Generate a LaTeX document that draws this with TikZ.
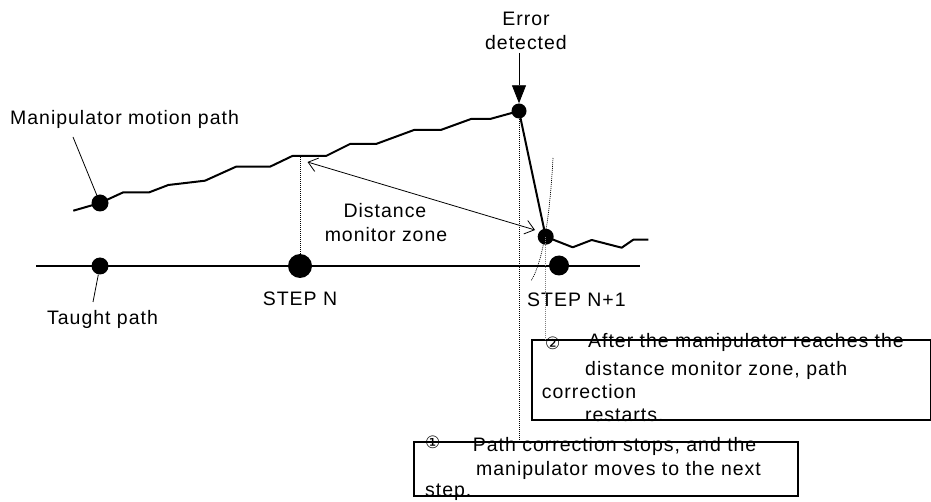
\documentclass[tikz,border=0pt]{standalone}
\usepackage{fontspec}
\setmainfont{Liberation Sans}[LetterSpace=5]
\newfontfamily\symfont{DejaVu Sans}
\usetikzlibrary{arrows.meta}
\begin{document}
\begin{tikzpicture}[x=1pt,y=-1pt,
  thickline/.style={line width=2pt, line join=round},
  thinline/.style={line width=0.8pt},
  dotline/.style={line width=0.8pt, dash pattern=on 1pt off 1pt},
  dotnode/.style={circle, fill=black, inner sep=0pt, minimum size=#1},
  lbl/.style={font=\fontsize{19.5}{24}\selectfont, inner sep=0pt},
  numlbl/.style={font=\symfont\fontsize{17}{17}\selectfont, inner sep=0pt},
  boxnode/.style={draw, line width=2pt, inner sep=0pt, anchor=north west}]
\useasboundingbox (0,0) rectangle (931,502);

% dots
\node[dotnode=17pt] (m0) at (100,203) {};
\node[dotnode=15pt] (err) at (519,111) {};
\node[dotnode=16pt] (m1) at (545.7,236.7) {};
\node[dotnode=17pt] (t0) at (100,266) {};
\node[dotnode=24pt] (sN) at (300,266) {};
\node[dotnode=20pt] (sN1) at (559,265.5) {};

% taught path
\coordinate (tl) at (36,266);
\coordinate (tr) at (640,266);
\draw[thickline] (tl) -- (tr);

% manipulator motion path
\draw[thickline] (73.3,210.7) -- (m0.center) -- (123.3,192.3) -- (149.3,192.3)
  -- (168.3,185) -- (205,180.7) -- (236,166.7) -- (270,166.7) -- (292.3,156)
  -- (326,156) -- (350,144) -- (376,144) -- (414,130) -- (440.7,130)
  -- (471,119) -- (490,119) -- (err.center) -- (m1.center) -- (572.7,247.3)
  -- (591.7,240) -- (621.7,247.7) -- (633.3,239.7) -- (648.3,239.7);

% boxes
\node[boxnode, minimum width=399pt, minimum height=80pt] (box2) at (531,339) {};
\node[boxnode, minimum width=384pt, minimum height=54pt] (box1) at (413,441) {};

% labels
\node[lbl, anchor=base west] (mtxt) at (10,125) {Manipulator motion path};
\node[lbl, anchor=base] (errtxt1) at (526,26) {Error};
\node[lbl, anchor=base] (errtxt2) at (526,50) {detected};
\node[lbl, anchor=base] (dist1) at (385,218) {Distance};
\node[lbl, anchor=base] (dist2) at (386,242) {monitor zone};
\node[lbl, anchor=base] (stepN) at (300,306) {STEP N};
\node[lbl, anchor=base west] (stepN1) at (527,307) {STEP N+1};
\node[lbl, anchor=base west] (taught) at (47,325) {Taught path};

% box 2 text
\node[numlbl] (n2) at (552.7,343) {②};
\node[lbl, anchor=base west] (b2l1) at (588,348) {After the manipulator reaches the};
\node[lbl, anchor=base west] (b2l2) at (585,375) {distance monitor zone, path};
\node[lbl, anchor=base west] (b2l3) at (541.7,398) {correction};
\node[lbl, anchor=base west] (b2l4) at (585,421.5) {restarts.};

% box 1 text
\node[numlbl] (n1) at (432.7,442.5) {①};
\node[lbl, anchor=base west] (b1l1) at (472.7,451) {Path correction stops, and the};
\node[lbl, anchor=base west] (b1l2) at (476,475) {manipulator moves to the next};
\node[lbl, anchor=base west] (b1l3) at (425,496.5) {step.};

% leaders
\coordinate (mlead) at (73,137);
\draw[thinline] (mlead) -- (m0);
\coordinate (tlead) at (93,302);
\draw[thinline] (t0) -- (tlead);

% error arrow
\coordinate (errtop) at (519,53);
\draw[thinline, -{Triangle[length=18pt,width=14pt]}] (errtop) -- (err.north);

% dotted verticals
\coordinate (sNtop) at (300,156);
\draw[dotline] (sN.north) -- (sNtop);
\draw[dotline] (err.center) -- (err.center |- box1.north);
\draw[dotline, gray, line width=1.2pt] (m1.center) -- (m1.center |- box2.north);

% distance zone arc
\coordinate (arcA) at (553,158);
\coordinate (arcB) at (531,281);
\draw[dotline, line width=0.7pt] (arcA) .. controls (550,215) and (543,262) .. (arcB);

% distance double arrow
\coordinate (da1) at (307.5,162);
\coordinate (da2) at (535,230);
\draw[thinline, {Straight Barb[length=9pt,width=14pt]}-{Straight Barb[length=9pt,width=14pt]}] (da1) -- (da2);
\end{tikzpicture}
\end{document}
